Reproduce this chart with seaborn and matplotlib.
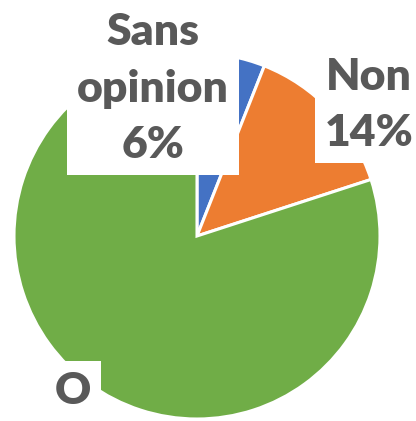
import matplotlib
matplotlib.use("Agg")
import matplotlib.pyplot as plt
import seaborn as sns

labels = ["Sans opinion", "Non", "O"]
shares = [6, 14, 80]
label_texts = ["Sans\nopinion\n6%", "Non\n14%", "O"]
colors = ["#4472C4", "#ED7D31", "#70AD47"]

sns.set_theme(style="white")
plt.rcParams["font.family"] = ["Lato", "DejaVu Sans"]

fig = plt.figure(figsize=(4.16, 4.21), dpi=100, facecolor="white")
# pie centred at about (197, 235) px with radius ~183 px
ax = fig.add_axes([14 / 416, 2 / 421, 366 / 416, 366 / 421])

palette = sns.color_palette(colors)
ax.pie(shares, colors=palette, startangle=90, counterclock=False,
       wedgeprops={"edgecolor": "white", "linewidth": 2.2})
ax.set_xlim(-1, 1)
ax.set_ylim(-1, 1)

# data label positions (axes data coords)
label_pos = [(-0.24, 0.805), (0.94, 0.715), (-0.676, -0.845)]
for txt, (x, y) in zip(label_texts, label_pos):
    ax.text(x, y, txt, ha="center", va="center", fontsize=32,
            fontweight="heavy", color="#595959", linespacing=1.5,
            bbox=dict(boxstyle="square,pad=0.22", facecolor="white",
                      edgecolor="none"),
            clip_on=False, zorder=5)

plt.savefig("out.png", dpi=100, facecolor="white")
